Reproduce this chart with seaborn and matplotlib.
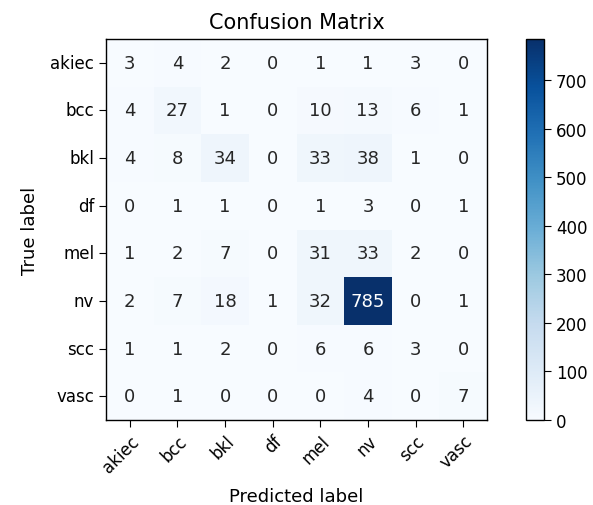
import numpy as np
import pandas as pd
import matplotlib
import matplotlib.pyplot as plt
import seaborn as sns

matplotlib.use("Agg")

clases = ["akiec", "bcc", "bkl", "df", "mel", "nv", "scc", "vasc"]
fila_akiec = [3, 4, 2, 0, 1, 1, 3, 0]
fila_bcc = [4, 27, 1, 0, 10, 13, 6, 1]
fila_bkl = [4, 8, 34, 0, 33, 38, 1, 0]
fila_df = [0, 1, 1, 0, 1, 3, 0, 1]
fila_mel = [1, 2, 7, 0, 31, 33, 2, 0]
fila_nv = [2, 7, 18, 1, 32, 785, 0, 1]
fila_scc = [1, 1, 2, 0, 6, 6, 3, 0]
fila_vasc = [0, 1, 0, 0, 0, 4, 0, 7]

cm = pd.DataFrame(
    [fila_akiec, fila_bcc, fila_bkl, fila_df, fila_mel, fila_nv, fila_scc, fila_vasc],
    index=clases, columns=clases,
)

W, H = 593, 506
fig = plt.figure(figsize=(W / 100, H / 100), dpi=100)
ax = fig.add_axes([106 / W, (H - 421) / H, 381 / W, 381 / H])
cax = fig.add_axes([526 / W, (H - 421) / H, 18 / W, 381 / H])

sns.heatmap(
    cm, annot=True, fmt="d", cmap="Blues", vmin=0, vmax=cm.values.max(),
    ax=ax, cbar_ax=cax, annot_kws={"fontsize": 13},
)

for s in ax.spines.values():
    s.set_visible(True)
    s.set_color("black")
    s.set_linewidth(1.0)
cb = ax.collections[0].colorbar
cb.outline.set_visible(True)
cb.outline.set_edgecolor("black")
cb.outline.set_linewidth(1.0)
cb.set_ticks(range(0, 800, 100))
cax.tick_params(labelsize=12, length=5)

ax.tick_params(axis="both", length=5, labelsize=12)
ax.set_xticklabels(clases, rotation=45, ha="right", rotation_mode="anchor")
ax.set_yticklabels(clases, rotation=0)
ax.set_title("Confusion Matrix", fontsize=15, pad=8)
ax.set_xlabel("Predicted label", fontsize=13, labelpad=8)
ax.set_ylabel("True label", fontsize=13, labelpad=8)

fig.savefig("out.png", dpi=100)
plt.close(fig)
